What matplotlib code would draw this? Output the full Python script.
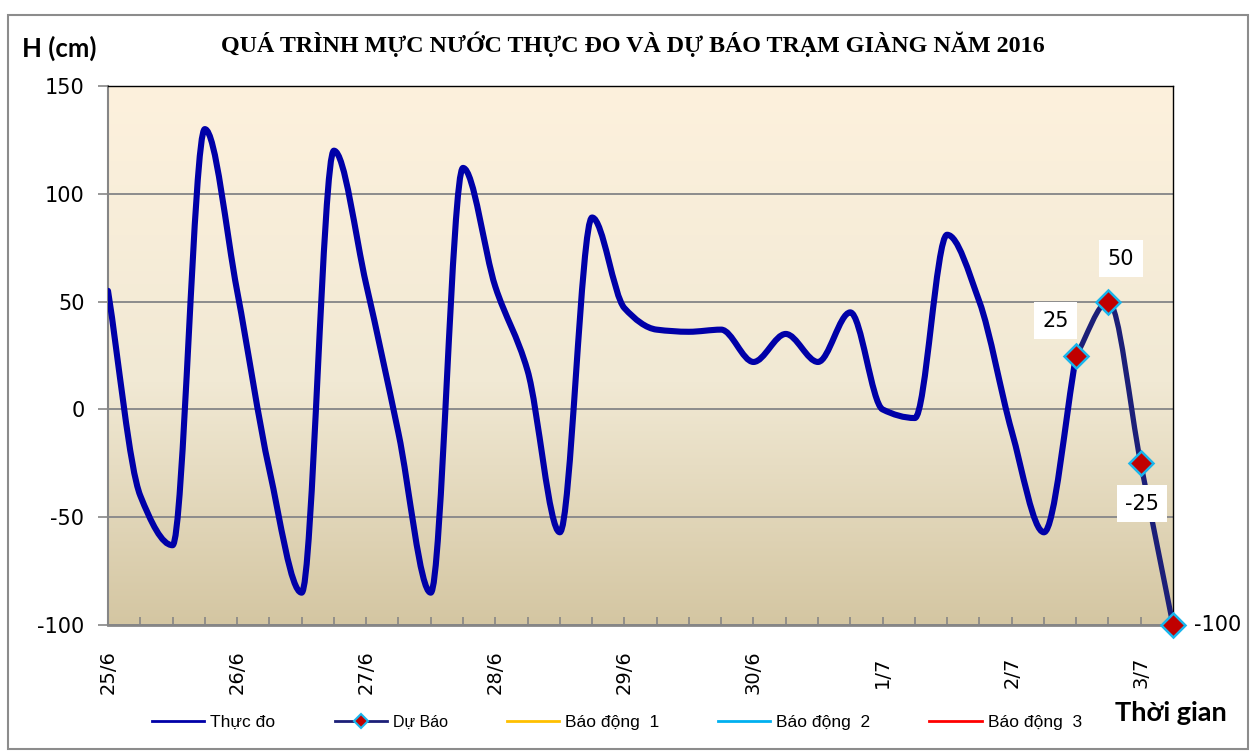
import numpy as np
import matplotlib.pyplot as plt
from matplotlib.path import Path
from matplotlib.patches import PathPatch, Rectangle
from matplotlib.lines import Line2D

plt.rcParams['axes.unicode_minus'] = False

# 6-hourly water level at Giàng station (cm), 25/6 - 3/7/2016
observed = [55, -40, -63, 130, 55, -28, -85, 120, 58, -11, -85, 112,
            57, 18, -57, 89, 47, 37, 36, 37, 22, 35, 22, 45, 0, -4,
            81, 50, -10, -57, 25]
forecast = [25, 50, -25, -100]
forecast_start = 30
day_labels = ['25/6', '26/6', '27/6', '28/6', '29/6', '30/6', '1/7', '2/7', '3/7']
steps_per_day = 4
y_ticks = [-100, -50, 0, 50, 100, 150]
alarm_names = ['Báo động  1', 'Báo động  2', 'Báo động  3']
alarm_colors = ['#FFC000', '#00B0F0', '#FF0000']


def smooth_path(xs, ys):
    # smoothed line drawn as cubic Bezier segments through every point,
    # flat tangent at local peaks/troughs
    xs = np.asarray(xs, float)
    ys = np.asarray(ys, float)
    n = len(ys)
    d = np.diff(ys)
    m = np.zeros(n)
    m[0] = d[0]
    m[-1] = d[-1]
    for i in range(1, n - 1):
        if d[i - 1] * d[i] > 0:
            m[i] = 2.0 / (1.0 / d[i - 1] + 1.0 / d[i])
    verts = [(xs[0], ys[0])]
    codes = [Path.MOVETO]
    for i in range(n - 1):
        verts += [(xs[i] + 1 / 3, ys[i] + m[i] / 3),
                  (xs[i + 1] - 1 / 3, ys[i + 1] - m[i + 1] / 3),
                  (xs[i + 1], ys[i + 1])]
        codes += [Path.CURVE4] * 3
    return Path(verts, codes)


fig = plt.figure(figsize=(12.59, 7.51), dpi=100)
ax = fig.add_axes([108 / 1259, 1 - 625 / 751, 1065 / 1259, 539 / 751])

n_total = forecast_start + len(forecast)
x_obs = np.arange(len(observed))
x_fc = np.arange(forecast_start, n_total)

ax.set_xlim(0, n_total - 1)
ax.set_ylim(-100, 150)

# gradient background of the plot area
stops = np.array([0.0, 0.55, 1.0])
top_c = np.array([253, 241, 221]) / 255
mid_c = np.array([241, 233, 212]) / 255
bot_c = np.array([212, 198, 162]) / 255
t = np.linspace(0, 1, 256)
grad = np.stack([np.interp(t, stops, [top_c[k], mid_c[k], bot_c[k]]) for k in range(3)], axis=1)
ax.imshow(grad[:, None, :], extent=[0, n_total - 1, -100, 150], aspect='auto',
          zorder=0, origin='upper')

ax.grid(axis='y', color='#8C8C8C', linewidth=1.4, zorder=1)
ax.set_axisbelow(True)

# observed and forecast curves
ax.add_patch(PathPatch(smooth_path(x_obs, observed), facecolor='none',
                       edgecolor='#0000A8', linewidth=4.4, zorder=3,
                       capstyle='round', joinstyle='round'))
ax.add_patch(PathPatch(smooth_path(x_fc, forecast), facecolor='none',
                       edgecolor='#1C1F78', linewidth=3.8, zorder=4,
                       capstyle='round', joinstyle='round'))
ax.plot(x_fc, forecast, linestyle='none', marker='D', markersize=12,
        markerfacecolor='#C00000', markeredgecolor='#19B5EC',
        markeredgewidth=1.8, zorder=5, clip_on=False)

# data labels on forecast points
offsets = [(-15, 25), (9, 31), (1, -29), (32, 0)]
for xi, yi, off in zip(x_fc, forecast, offsets):
    box = dict(facecolor='white', edgecolor='none', pad=6) if yi != forecast[-1] else None
    ax.annotate(str(yi), (xi, yi), xytext=off, textcoords='offset points',
                ha='center', va='center', fontsize=15, bbox=box,
                annotation_clip=False, zorder=6)

# axes styling
for s in ['top', 'right']:
    ax.spines[s].set_color('black')
    ax.spines[s].set_linewidth(1.0)
ax.spines['left'].set_color('#868686')
ax.spines['left'].set_linewidth(1.5)
ax.spines['bottom'].set_color('#868686')
ax.spines['bottom'].set_linewidth(2.0)

ax.set_yticks(y_ticks)
ax.tick_params(axis='y', direction='out', length=7, width=1.2, color='#868686',
               labelsize=15, pad=10)

major_x = np.arange(0, n_total, steps_per_day)
ax.set_xticks(major_x)
ax.set_xticklabels(day_labels, rotation=90)
ax.set_xticks(np.arange(n_total), minor=True)
ax.tick_params(axis='x', which='both', direction='in', length=6, width=1.2,
               color='#868686')
ax.tick_params(axis='x', which='major', labelsize=14, pad=34)
for lab in ax.get_xticklabels():
    lab.set_va('center')

# titles
fig.text(0.503, 1 - 44 / 751, 'QUÁ TRÌNH MỰC NƯỚC THỰC ĐO VÀ DỰ BÁO TRẠM GIÀNG NĂM 2016',
         ha='center', va='center', fontsize=17.3, fontweight='bold', family='Liberation Serif')
fig.text(22 / 1259, 1 - 48 / 751, 'H (cm)', ha='left', va='center', fontsize=18.5,
         fontweight='bold', family='Lato')
fig.text(1171 / 1259, 1 - 713 / 751, 'Thời gian', ha='center', va='center', fontsize=19.5,
         fontweight='bold', family='Lato')

# legend
handles = [Line2D([], [], color='#0000A8', linewidth=2),
           Line2D([], [], color='#1C1F78', linewidth=2, marker='D', markersize=7,
                  markerfacecolor='#C00000', markeredgecolor='#19B5EC', markeredgewidth=1.5)]
labels = ['Thực đo', 'Dự Báo']
for name, col in zip(alarm_names, alarm_colors):
    handles.append(Line2D([], [], color=col, linewidth=2))
    labels.append(name)
leg = fig.legend(handles, labels, loc='center', bbox_to_anchor=(617 / 1259, 1 - 722 / 751),
                 ncol=5, frameon=False, handlelength=3.0, handletextpad=0.35,
                 columnspacing=3.4, prop={'family': 'Liberation Sans', 'size': 12.5})
leg.get_texts()[1].set_fontsize(11.5)

# outer chart border
fig.patches.append(Rectangle((8 / 1259, 2 / 751), 1240 / 1259, 734 / 751,
                             transform=fig.transFigure, fill=False,
                             edgecolor='#8C8C8C', linewidth=1.5))

fig.savefig('out.png', dpi=100)
